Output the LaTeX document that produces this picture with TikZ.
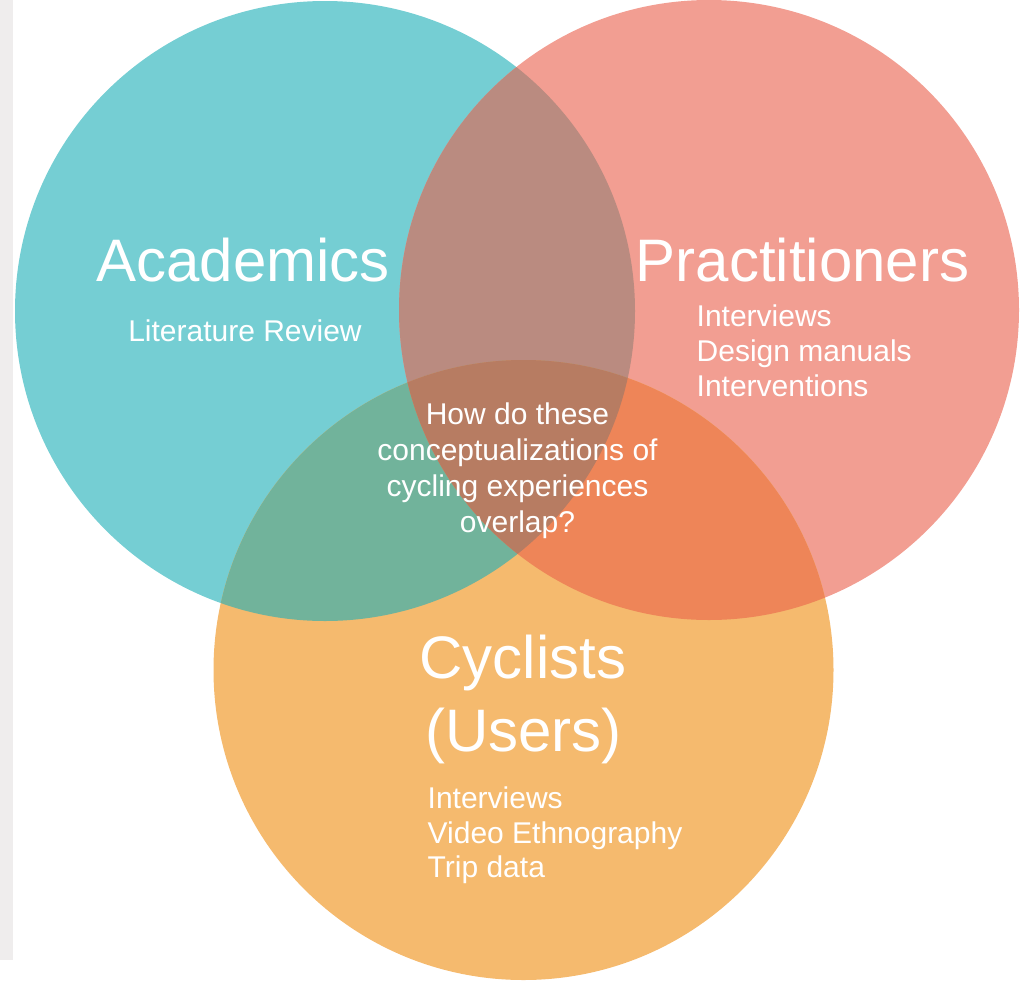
\documentclass[tikz,border=0pt]{standalone}
\usepackage{fontspec}
\setmainfont{Liberation Sans}
\definecolor{stripgray}{HTML}{EFEDED}
\definecolor{cteal}{HTML}{75CED3}
\definecolor{csalmon}{HTML}{F29E92}
\definecolor{corange}{HTML}{F5BA6E}
\definecolor{cts}{HTML}{BA8B80}
\definecolor{cto}{HTML}{71B39B}
\definecolor{cso}{HTML}{EE8558}
\definecolor{ctso}{HTML}{B77C62}
\begin{document}
\begin{tikzpicture}[x=1pt,y=-1pt,
  big/.style={text=white, font=\fontsize{60}{73}\selectfont, inner sep=0pt, anchor=base},
  small/.style={text=white, font=\fontsize{30}{35}\selectfont, inner sep=0pt, anchor=base},
  smallw/.style={small, anchor=base west},
  rad/.style={radius=310pt}]
\useasboundingbox (0,0) rectangle (1020,980);
\fill[stripgray] (0,0) rectangle (13,960);
\coordinate (T) at (325,311);
\coordinate (S) at (709,310);
\coordinate (O) at (523.5,670);
\fill[cteal] (T) circle[rad];
\fill[csalmon] (S) circle[rad];
\fill[corange] (O) circle[rad];
\begin{scope}\clip (T) circle[rad]; \fill[cts] (S) circle[rad]; \end{scope}
\begin{scope}\clip (T) circle[rad]; \fill[cto] (O) circle[rad]; \end{scope}
\begin{scope}\clip (S) circle[rad]; \fill[cso] (O) circle[rad]; \end{scope}
\begin{scope}\clip (T) circle[rad]; \clip (S) circle[rad]; \fill[ctso] (O) circle[rad]; \end{scope}
% Academics
\node[big] (acad) at (243,281) {Academics};
\node[small] (lit) at (245,341) {Literature Review};
% Practitioners
\node[big] (prac) at (802.5,281) {Practitioners};
\node[smallw] (p1) at (696.5,326) {Interviews};
\node[smallw] (p2) at (696.5,361) {Design manuals};
\node[smallw] (p3) at (696.5,396) {Interventions};
% Center
\node[small] (c1) at (517.5,424) {How do these};
\node[small] (c2) at (517.5,460) {conceptualizations of};
\node[small] (c3) at (517.5,496) {cycling experiences};
\node[small] (c4) at (517.5,532) {overlap?};
% Cyclists
\node[big] (cyc) at (523,678) {Cyclists};
\node[big] (usr) at (523.5,751) {(Users)};
\node[smallw] (u1) at (427.5,808) {Interviews};
\node[smallw] (u2) at (427.5,843) {Video Ethnography};
\node[smallw] (u3) at (427.5,877) {Trip data};
\end{tikzpicture}
\end{document}
